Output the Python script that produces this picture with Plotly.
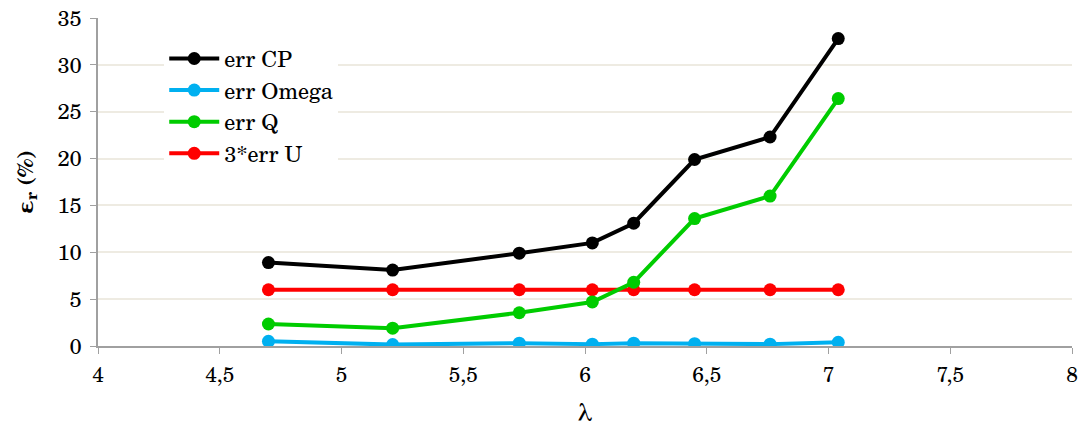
import plotly.graph_objects as go

lam = [4.70, 5.21, 5.73, 6.03, 6.20, 6.45, 6.76, 7.04]
err_cp = [8.9, 8.1, 9.9, 11.0, 13.1, 19.9, 22.3, 32.8]
err_omega = [0.5, 0.15, 0.3, 0.2, 0.3, 0.25, 0.2, 0.4]
err_q = [2.35, 1.9, 3.55, 4.7, 6.8, 13.6, 16.0, 26.4]
err_u3 = [6.0, 6.0, 6.0, 6.0, 6.0, 6.0, 6.0, 6.0]

names = ["err CP", "err Omega", "err Q", "3*err U"]
colors = ["#000000", "#00B0F0", "#00CC00", "#FF0000"]
series = [err_cp, err_omega, err_q, err_u3]

FONT = "Century Schoolbook, C059, TeX Gyre Schola, DejaVu Serif, serif"

fig = go.Figure()
order = [3, 2, 1, 0]
for i in order:
    fig.add_trace(go.Scatter(
        x=lam, y=series[i], name=names[i], mode="lines+markers",
        line=dict(color=colors[i], width=4),
        marker=dict(color=colors[i], size=13),
        legendrank=i + 1,
    ))

fig.update_layout(
    width=1083, height=429,
    margin=dict(l=98, r=11, t=18, b=83, autoexpand=False),
    paper_bgcolor="white", plot_bgcolor="white",
    separators=", ",
    font=dict(family=FONT, size=22, color="#000000"),
    showlegend=True,
    legend=dict(x=0.068, y=0.94, xanchor="left", yanchor="top",
                bgcolor="white", font=dict(family=FONT, size=22),
                itemwidth=50, tracegroupgap=0),
    xaxis=dict(range=[4, 8], dtick=0.5, tick0=4, showgrid=False, automargin=False,
               showline=True, linecolor="#A0A0A0", linewidth=1.5,
               ticks="outside", ticklen=6, tickcolor="#A0A0A0",
               zeroline=False, tickfont=dict(size=21), ticklabelstandoff=3,
               title=dict(text="λ", font=dict(family=FONT, size=25), standoff=16)),
    yaxis=dict(range=[0, 35], dtick=5, showgrid=True, gridcolor="#EEEBE2", automargin=False,
               gridwidth=1.5, showline=True, linecolor="#A0A0A0", linewidth=1.5,
               ticks="outside", ticklen=6, tickcolor="#A0A0A0", zeroline=False,
               tickfont=dict(size=22), ticklabelstandoff=4,
               title=dict(text="<b>ε<sub>r</sub> (%)</b>", font=dict(family=FONT, size=22), standoff=18)),
)

fig.write_html("out.html", config={"displayModeBar": False},
               post_script="document.body.style.margin='0';document.body.style.overflow='hidden';")
